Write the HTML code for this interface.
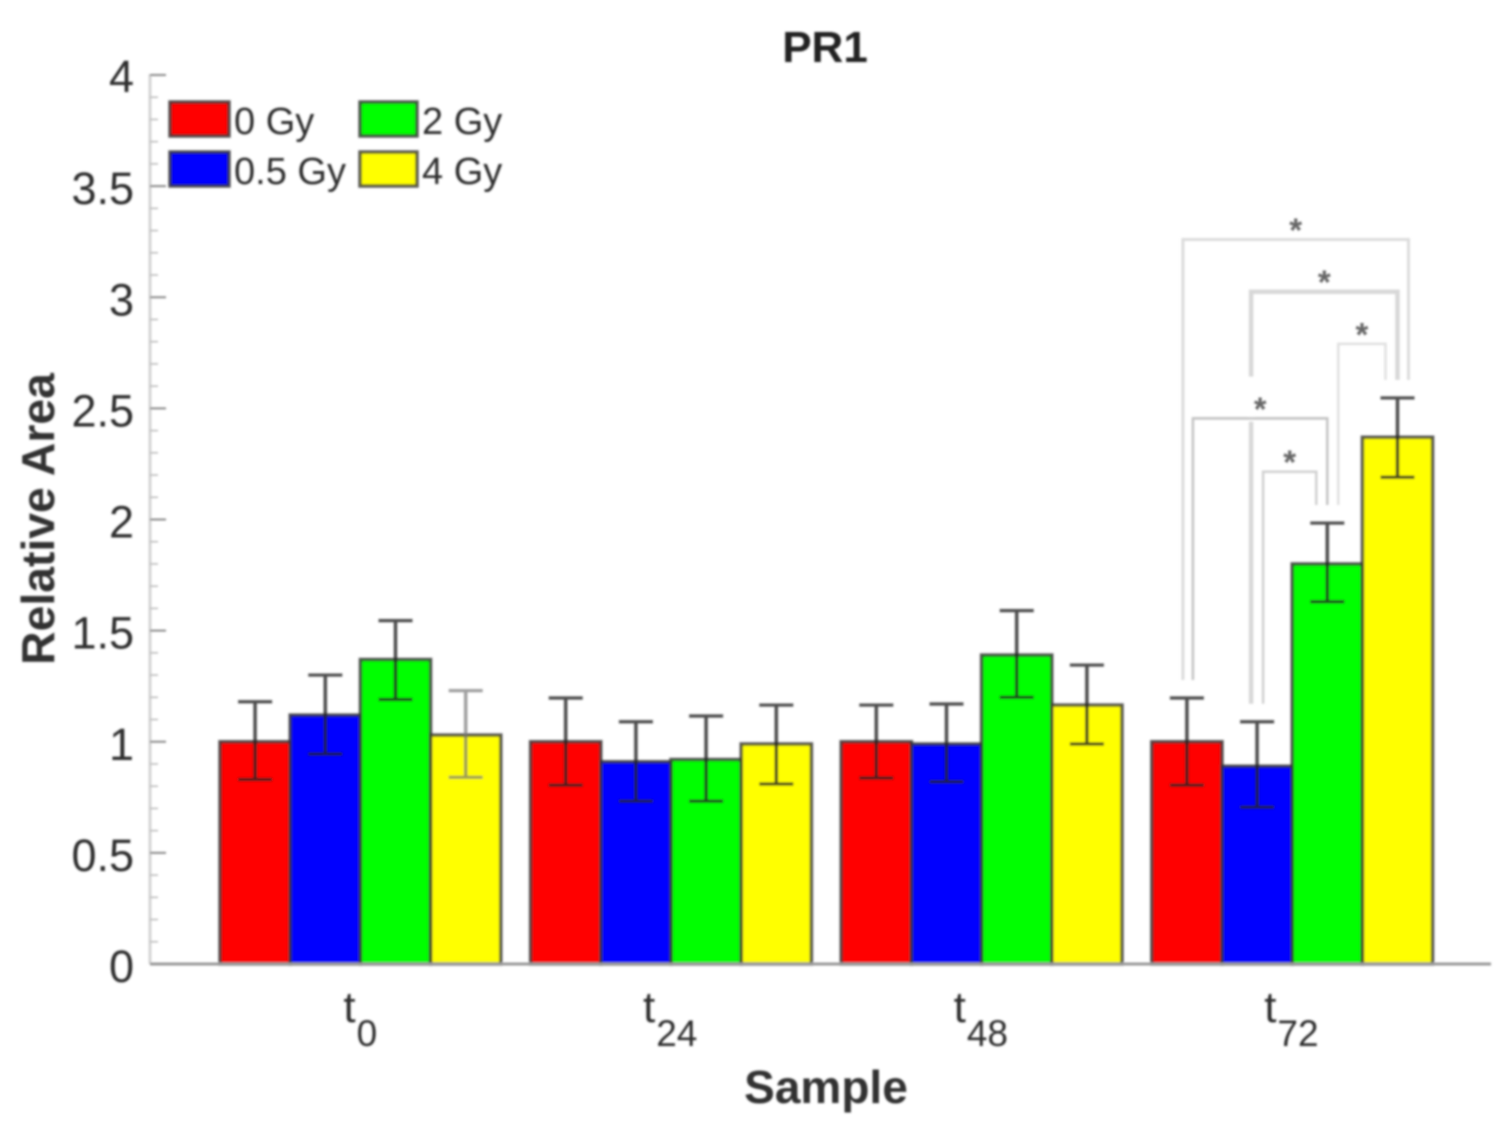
<!DOCTYPE html>
<html lang="en">
<head>
<meta charset="utf-8">
<title>PR1 Relative Area</title>
<style>
html,body{margin:0;padding:0;background:#fff;width:1503px;height:1124px;overflow:hidden}
svg{display:block;font-family:"Liberation Sans",sans-serif}
</style>
</head>
<body>
<svg id="chart" xmlns="http://www.w3.org/2000/svg" width="1503" height="1124" viewBox="0 0 1503 1124">
<defs><filter id="soft" x="-5%" y="-5%" width="110%" height="110%"><feGaussianBlur stdDeviation="1"/></filter></defs>
<g id="root" filter="url(#soft)"></g>
</svg>
<script>
const categories = ['0', '24', '48', '72'];
const seriesNames = ['0 Gy', '0.5 Gy', '2 Gy', '4 Gy'];
const seriesColors = ['#ff0000', '#0000ff', '#00ff00', '#ffff00'];
const values0Gy = [1, 1, 1, 1];
const values05Gy = [1.12, 0.91, 0.99, 0.89];
const values2Gy = [1.37, 0.92, 1.39, 1.80];
const values4Gy = [1.03, 0.99, 1.165, 2.37];
const upper0Gy = [1.18, 1.197, 1.165, 1.197];
const upper05Gy = [1.30, 1.09, 1.17, 1.09];
const upper2Gy = [1.545, 1.116, 1.59, 1.984];
const upper4Gy = [1.23, 1.165, 1.345, 2.547];
const lower0Gy = [0.83, 0.805, 0.837, 0.805];
const lower05Gy = [0.945, 0.733, 0.82, 0.706];
const lower2Gy = [1.19, 0.733, 1.20, 1.63];
const lower4Gy = [0.84, 0.81, 0.99, 2.19];
const yMajorTicks = [0, 0.5, 1, 1.5, 2, 2.5, 3, 3.5, 4];
const yTickLabels = ['0', '0.5', '1', '1.5', '2', '2.5', '3', '3.5', '4'];
const bracketFromSeries = [0, 1, 2, 0, 1];
const bracketToSeries = [3, 3, 3, 2, 2];
const bracketTopValues = [3.26, 3.025, 2.79, 2.455, 2.215];

const NS = 'http://www.w3.org/2000/svg';
const root = document.getElementById('root');
const values = [values0Gy, values05Gy, values2Gy, values4Gy];
const uppers = [upper0Gy, upper05Gy, upper2Gy, upper4Gy];
const lowers = [lower0Gy, lower05Gy, lower2Gy, lower4Gy];

const y0 = 964, yScale = 222.25, axisX = 150, axisEnd = 1491;
const firstGroupX = 220, groupStep = 310.6, barW = 70.2;
function yPos(v) { return y0 - v * yScale; }
function barX(g, s) { return firstGroupX + g * groupStep + s * barW; }
function barCx(g, s) { return barX(g, s) + barW / 2; }

function mk(tag, attrs, text) {
  const e = document.createElementNS(NS, tag);
  for (const k in attrs) e.setAttribute(k, attrs[k]);
  if (text !== undefined) e.textContent = text;
  return e;
}
function line(parent, x1, y1, x2, y2, stroke, w, name) {
  const l = mk('line', { x1: x1, y1: y1, x2: x2, y2: y2, stroke: stroke, 'stroke-width': w });
  
  
  parent.appendChild(l);
  return l;
}
function label(parent, x, y, str, size, anchor, weight, fill, name) {
  const t = mk('text', { x: x, y: y, 'font-size': size, 'text-anchor': anchor, 'font-weight': weight, fill: fill }, str);
  
  
  parent.appendChild(t);
  return t;
}

/* axes and ticks */
line(root, axisX, yPos(4) - 1, axisX, y0, '#d4d4d4', 3, 'y-axis-line');
for (let i = 0; i <= 40; i++) {
  const v = i / 10;
  const major = i % 5 === 0;
  line(root, axisX, yPos(v), axisX + (major ? 16 : 8), yPos(v), major ? '#8a8a8a' : '#bdbdbd', major ? 2 : 1.6, major ? 'y-major-tick' : 'y-minor-tick');
}
yMajorTicks.forEach(function (v, i) {
  label(root, 134, yPos(v) + (v === 4 ? 17 : 18), yTickLabels[i], 45, 'end', 'normal', '#2e2e2e', 'y-tick-label');
});

/* bars */
values.forEach(function (series, s) {
  series.forEach(function (v, g) {
    const r = mk('rect', {
      x: barX(g, s), y: yPos(v), width: barW, height: y0 - yPos(v),
      fill: seriesColors[s], stroke: '#333', 'stroke-opacity': 0.8, 'stroke-width': 3.5
    });
    
    
    root.appendChild(r);
  });
});
line(root, axisX, y0, axisEnd, y0, '#9a9a9a', 3, 'x-axis-line');

/* error bars */
values.forEach(function (series, s) {
  series.forEach(function (v, g) {
    const cx = barCx(g, s);
    const faint = s === 3 && g === 0;
    const col = faint ? '#777' : '#222';
    const op = faint ? 0.7 : 0.8;
    const g2 = mk('g', { opacity: op });
    
    
    line(g2, cx, yPos(uppers[s][g]), cx, yPos(lowers[s][g]), col, 3.5, 'error-bar-stem');
    line(g2, cx - 17, yPos(uppers[s][g]), cx + 17, yPos(uppers[s][g]), col, 3.2, 'error-bar-upper-cap');
    line(g2, cx - 17, yPos(lowers[s][g]), cx + 17, yPos(lowers[s][g]), col, 3.2, 'error-bar-lower-cap');
    root.appendChild(g2);
  });
});

/* significance brackets on the last category */
const lastGroup = categories.length - 1;
const bracketLeftNudge = [-4, -6, 11, 6, 6];
const bracketRightNudge = [11, 0, -12, 0, -11];
const bracketStroke = ['#dcdcdc', '#d8d8d8', '#e0e0e0', '#c4c4c4', '#d0d0d0'];
const bracketWidth = [3, 4.5, 2.5, 2.5, 2.5];
const legGap = 18;
bracketTopValues.forEach(function (top, i) {
  const a = bracketFromSeries[i], b = bracketToSeries[i];
  const xL = barCx(lastGroup, a) + bracketLeftNudge[i];
  const xR = barCx(lastGroup, b) + bracketRightNudge[i];
  const yT = yPos(top);
  const yLB = yPos(uppers[a][lastGroup]) - legGap;
  const yRB = yPos(uppers[b][lastGroup]) - legGap;
  const p = mk('path', {
    d: 'M' + xL + ' ' + yLB + 'V' + yT + 'H' + xR + 'V' + yRB,
    fill: 'none', stroke: bracketStroke[i], 'stroke-width': bracketWidth[i]
  });
  
  
  root.appendChild(p);
  if (i === 1) {
    const gap = mk('rect', { x: xL - 3, y: yT + 85, width: 6, height: 45, fill: '#fff' });
    
    
    root.appendChild(gap);
  }
  label(root, (xL + xR) / 2, yT + 2, '*', 33, 'middle', 'bold', '#666', 'significance-star');
});
/* horizontal of the fourth bracket passes over the gap */
line(root, barCx(lastGroup, 0) + 6, yPos(bracketTopValues[3]), barCx(lastGroup, 2), yPos(bracketTopValues[3]), '#c4c4c4', 2.5, 'significance-bracket-top');

/* category labels */
categories.forEach(function (c, g) {
  const x = barX(g, 2) - 17 - (c.length - 1) * 11;
  const t = mk('text', { x: x, y: 1022, 'font-size': 44, fill: '#2e2e2e', 'text-anchor': 'start' });
  
  
  t.textContent = 't';
  const sub = mk('tspan', { 'font-size': 37, dy: 24, dx: 1 }, c);
  t.appendChild(sub);
  root.appendChild(t);
});

/* titles */
label(root, 825, 62, 'PR1', 44, 'middle', 'bold', '#222', 'chart-title');
label(root, 826, 1103, 'Sample', 46, 'middle', 'bold', '#333', 'x-axis-title');
const yt = label(root, 0, 0, 'Relative Area', 46.3, 'middle', 'bold', '#333', 'y-axis-title');
yt.setAttribute('transform', 'translate(54 519) rotate(-90)');

/* legend */
const legend = mk('g', {});


root.appendChild(legend);
const legendOrder = [[170, 102], [170, 152], [360, 102], [360, 152]];
seriesNames.forEach(function (name, i) {
  const pos = legendOrder[i];
  const sw = mk('rect', { x: pos[0], y: pos[1], width: i < 2 ? 59 : 57, height: 34, fill: seriesColors[i], stroke: '#333', 'stroke-opacity': 0.8, 'stroke-width': 3.5 });
  
  
  legend.appendChild(sw);
  label(legend, pos[0] + (i < 2 ? 64 : 62), pos[1] + 32, name, 38, 'start', 'normal', '#2e2e2e', 'legend-entry');
});
</script>
</body>
</html>
